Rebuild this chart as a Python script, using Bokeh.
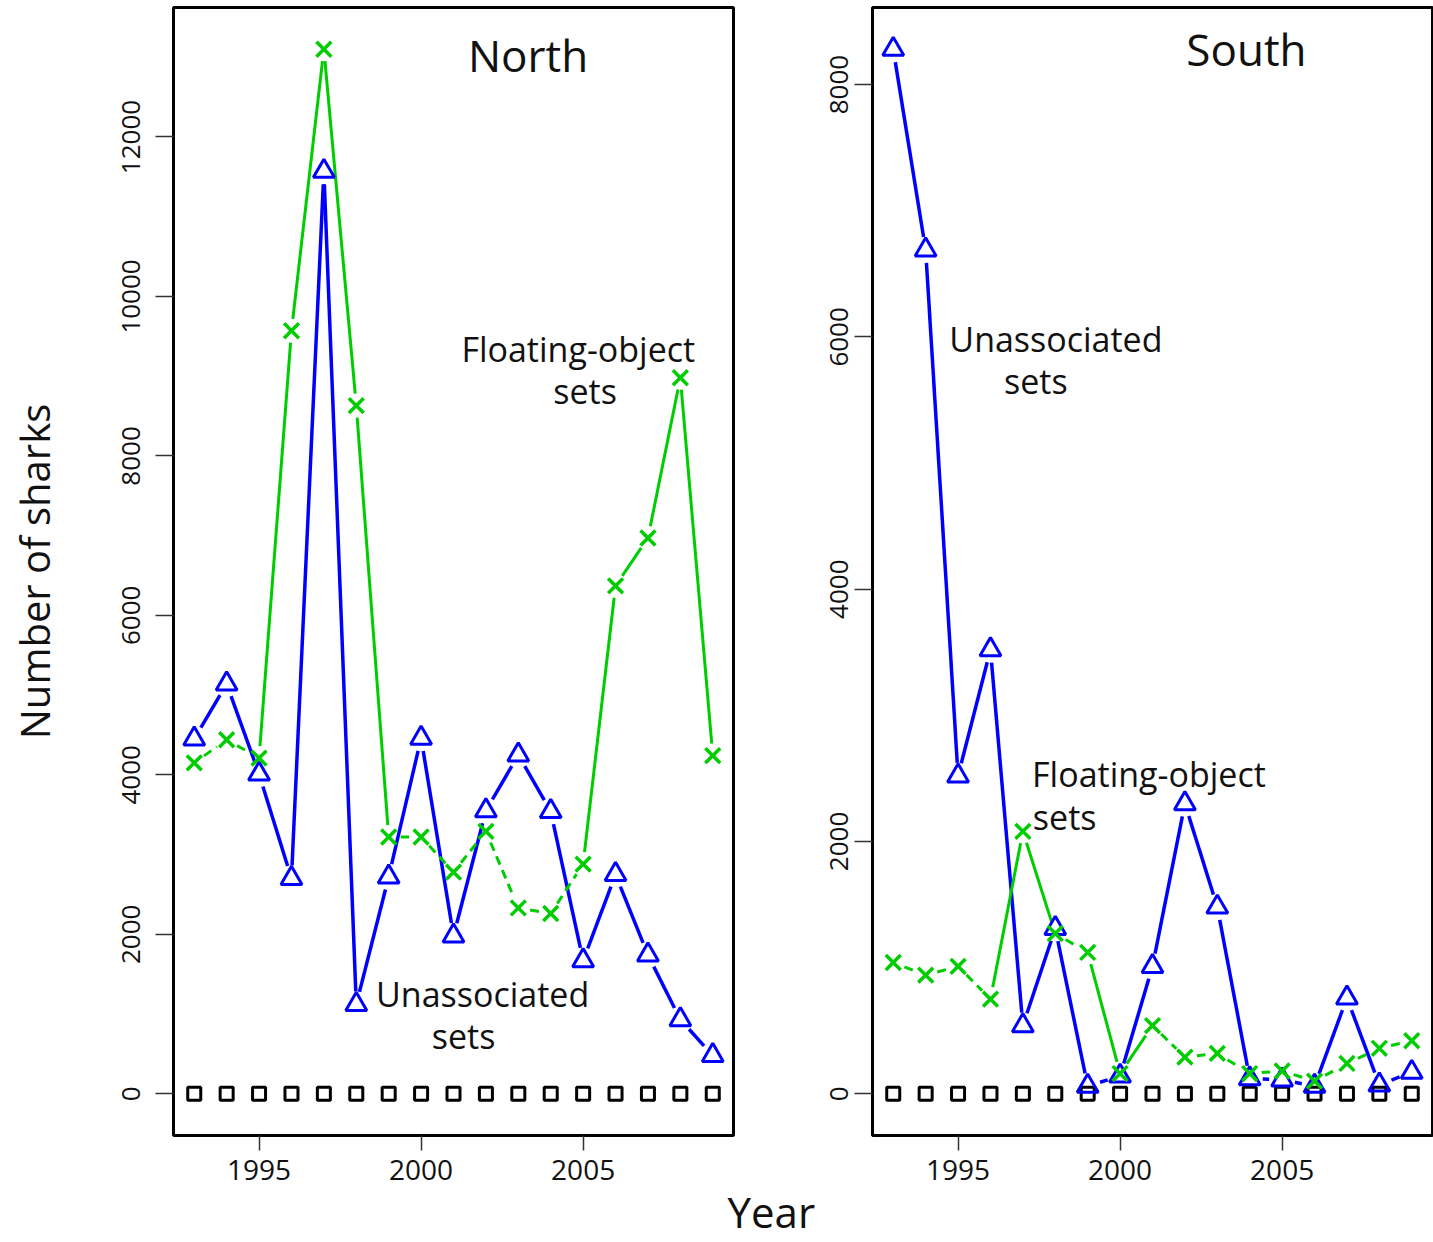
import math
from bokeh.plotting import figure
from bokeh.layouts import row
from bokeh.models import Range1d, FixedTicker, Label, Title
from bokeh.embed import file_html
from bokeh.resources import INLINE

years = list(range(1993, 2010))

north_unassoc = [4450, 5140, 4010, 2700, 11570, 1120, 2720, 4460, 1980, 3550, 4250, 3540, 1670, 2750, 1740, 930, 480]
north_float = [4150, 4440, 4210, 9570, 13100, 8630, 3220, 3220, 2780, 3290, 2330, 2260, 2880, 6370, 6970, 8980, 4240]
north_dolphin = [0] * 17

south_unassoc = [8280, 6690, 2520, 3520, 540, 1310, 60, 140, 1010, 2300, 1480, 120, 110, 60, 760, 70, 170]
south_float = [1040, 940, 1010, 750, 2080, 1270, 1120, 160, 540, 290, 320, 160, 180, 100, 240, 360, 420]
south_dolphin = [0] * 17

north_yticks = [0, 2000, 4000, 6000, 8000, 10000, 12000]
south_yticks = [0, 2000, 4000, 6000, 8000]
xticks = [1995, 2000, 2005]

# start years of green segments drawn dashed
north_float_dashed = [1993, 1994, 1999, 2000, 2001, 2002, 2003, 2004]
south_float_dashed = [1993, 1994, 1995, 1998, 2001, 2002, 2003, 2004, 2005, 2006, 2007, 2008]

BLUE = "#0000FF"
GREEN = "#00CD00"
FONT = "Open Sans"

FRAME_W = 560
FRAME_H = 1128
X0, X1 = 1992.36, 2009.64


def gapped_segments(xs, ys, ymin, ymax, gap, dashed=None):
    """Split a polyline into segments shortened near each point (R's type='b')."""
    sx = FRAME_W / (X1 - X0)
    sy = FRAME_H / (ymax - ymin)
    solid = ([], [], [], [])
    dash = ([], [], [], [])
    for i in range(len(xs) - 1):
        dxp = (xs[i + 1] - xs[i]) * sx
        dyp = (ys[i + 1] - ys[i]) * sy
        L = math.hypot(dxp, dyp)
        if L <= 2 * gap:
            continue
        f = gap / L
        xa = xs[i] + f * (xs[i + 1] - xs[i])
        ya = ys[i] + f * (ys[i + 1] - ys[i])
        xb = xs[i + 1] - f * (xs[i + 1] - xs[i])
        yb = ys[i + 1] - f * (ys[i + 1] - ys[i])
        tgt = dash if (dashed is not None and xs[i] in dashed) else solid
        tgt[0].append(xa); tgt[1].append(ya); tgt[2].append(xb); tgt[3].append(yb)
    return solid, dash


def make_panel(width, border_left, border_right, ymax, yticks, unassoc, flt, dolphin, dashed, label_standoff):
    ylo, yhi = -0.04 * ymax, 1.04 * ymax
    p = figure(width=width, height=1242, output_backend="svg", toolbar_location=None,
               x_range=Range1d(X0, X1), y_range=Range1d(ylo, yhi),
               min_border_left=border_left, min_border_right=border_right,
               min_border_top=7, min_border_bottom=107)
    p.xgrid.visible = False
    p.ygrid.visible = False
    p.outline_line_color = "black"
    p.outline_line_width = 3
    p.background_fill_color = "white"
    p.border_fill_color = "white"

    for ax in (p.xaxis[0], p.yaxis[0]):
        ax.axis_line_color = None
        ax.minor_tick_line_color = None
        ax.major_tick_in = 0
        ax.major_tick_line_color = "#333333"
        ax.major_tick_line_width = 1.5
        ax.major_label_text_font = FONT
        ax.major_label_text_color = "#111111"

    p.xaxis.ticker = FixedTicker(ticks=xticks)
    p.xaxis.major_tick_out = 15
    p.xaxis.major_label_standoff = 9
    p.xaxis.major_label_text_font_size = "28px"

    p.yaxis.ticker = FixedTicker(ticks=yticks)
    p.yaxis.major_tick_out = 18
    p.yaxis.major_label_standoff = label_standoff
    p.yaxis.major_label_orientation = "vertical"
    p.yaxis.major_label_text_font_size = "26px"

    # unassociated sets (blue)
    (b_solid, _) = gapped_segments(years, unassoc, ylo, yhi, 13)
    p.segment(*b_solid, line_color=BLUE, line_width=3.5)
    # floating-object sets (green), solid and dashed segments
    g_solid, g_dash = gapped_segments(years, flt, ylo, yhi, 12, dashed)
    p.segment(*g_solid, line_color=GREEN, line_width=3)
    p.segment(*g_dash, line_color=GREEN, line_width=3, line_dash="9 6")

    p.scatter(years, dolphin, marker="square", size=13, fill_color=None, line_color="black", line_width=3)
    p.scatter(years, unassoc, marker="triangle", size=21, fill_color=None, line_color=BLUE, line_width=3)
    p.scatter(years, flt, marker="x", size=21, line_color=GREEN, line_width=3.5)
    return p


north = make_panel(817, 173, 84, 13100, north_yticks, north_unassoc, north_float, north_dolphin,
                   north_float_dashed, 15)
south = make_panel(616, 55, 1, 8280, south_yticks, south_unassoc, south_float, south_dolphin,
                   south_float_dashed, 6)

north.yaxis.axis_label = "Number of sharks"
north.yaxis.axis_label_text_font = FONT
north.yaxis.axis_label_text_font_size = "40px"
north.yaxis.axis_label_text_font_style = "normal"
north.yaxis.axis_label_standoff = 58
north.yaxis.axis_label_text_color = "#111111"

north.add_layout(Title(text="Year", align="left", offset=554, text_font=FONT, text_font_size="42px",
                       text_font_style="normal", text_color="#111111", standoff=0,
                       vertical_align="top"), "below")


def lab(p, x, y, text, size):
    p.add_layout(Label(x=x, y=y, text=text, text_font=FONT, text_font_size=size,
                       text_align="center", text_baseline="middle", text_color="#111111"))


lab(north, 2003.3, 13030, "North", "44px")
lab(north, 2004.85, 9342, "Floating-object", "34px")
lab(north, 2005.06, 8815, "sets", "34px")
lab(north, 2001.9, 1254, "Unassociated", "34px")
lab(north, 2001.31, 727, "sets", "34px")

lab(south, 2003.9, 8285, "South", "44px")
lab(south, 1998.02, 5982, "Unassociated", "34px")
lab(south, 1997.40, 5650, "sets", "34px")
lab(south, 2000.89, 2532, "Floating-object", "34px")
lab(south, 1998.29, 2192, "sets", "34px")

layout = row(north, south)
open("out.html", "w").write(file_html(layout, INLINE))
